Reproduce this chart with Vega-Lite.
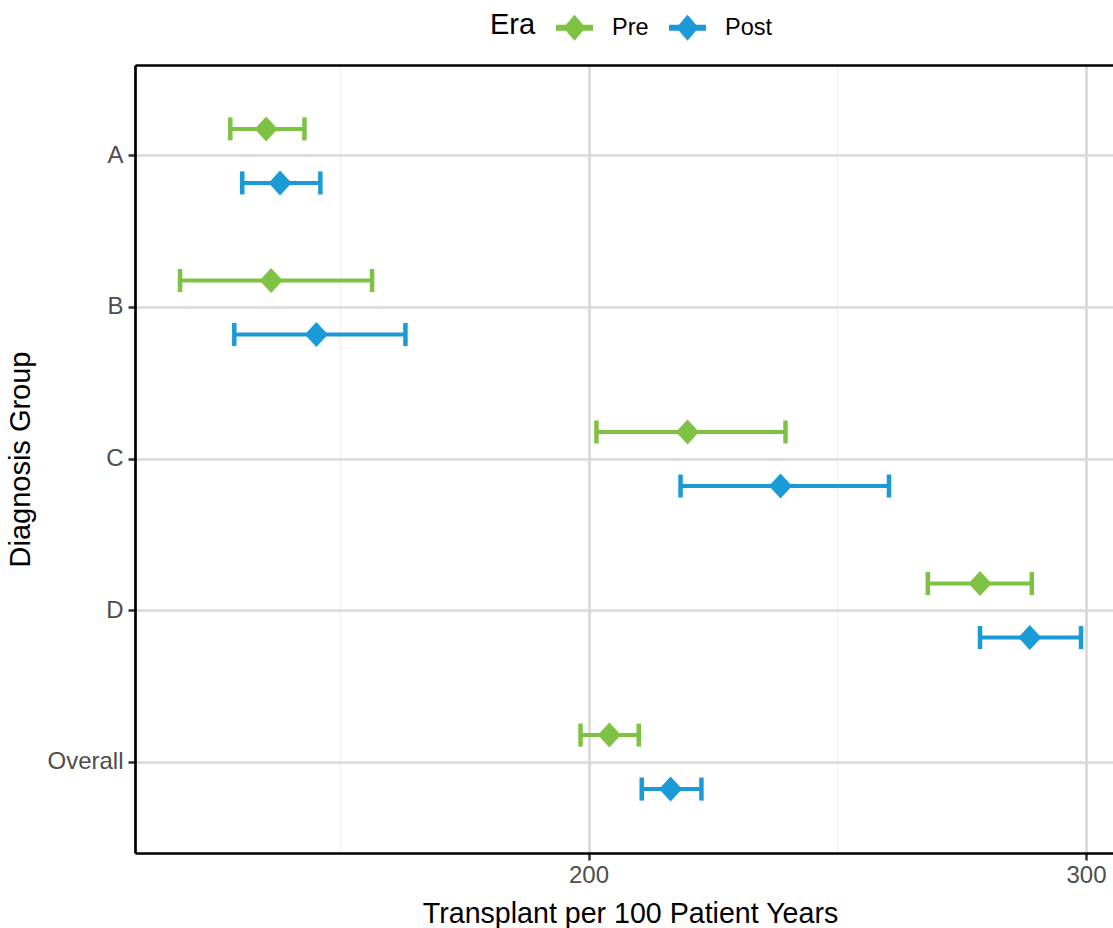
{
  "$schema": "https://vega.github.io/schema/vega-lite/v6.json",
  "width": 978,
  "height": 788,
  "autosize": {"type": "none"},
  "padding": {"left": 135, "top": 65, "right": 0, "bottom": 75},
  "background": "white",
  "config": {"font": "Liberation Sans", "view": {"stroke": null}},
  "data": {"values": [
    {"group": "A", "era": "Pre", "est": 135.2, "lo": 128.0, "hi": 142.9},
    {"group": "A", "era": "Post", "est": 138.0, "lo": 130.4, "hi": 146.1},
    {"group": "B", "era": "Pre", "est": 136.2, "lo": 117.9, "hi": 156.5},
    {"group": "B", "era": "Post", "est": 145.3, "lo": 128.8, "hi": 163.2},
    {"group": "C", "era": "Pre", "est": 219.9, "lo": 201.6, "hi": 239.6},
    {"group": "C", "era": "Post", "est": 238.6, "lo": 218.5, "hi": 260.4},
    {"group": "D", "era": "Pre", "est": 278.7, "lo": 268.2, "hi": 289.1},
    {"group": "D", "era": "Post", "est": 288.7, "lo": 278.7, "hi": 299.0},
    {"group": "Overall", "era": "Pre", "est": 204.2, "lo": 198.4, "hi": 210.1},
    {"group": "Overall", "era": "Post", "est": 216.5, "lo": 210.7, "hi": 222.7}
  ]},
  "encoding": {
    "y": {
      "field": "group", "type": "nominal",
      "scale": {"domain": ["A", "B", "C", "D", "Overall"], "paddingInner": 0, "paddingOuter": 0.1},
      "axis": {
        "title": "Diagnosis Group", "titleFontSize": 29, "titleFontWeight": "normal", "titleColor": "black", "titlePadding": 11,
        "labelFontSize": 24, "labelColor": "#4D4D4D", "labelPadding": 5,
        "tickColor": "#333333", "tickWidth": 2.5, "tickSize": 7,
        "domainColor": "black", "domainWidth": 2.7,
        "grid": true, "gridColor": "#D9D9D9", "gridWidth": 2.7, "bandPosition": 0.5
      }
    },
    "yOffset": {"field": "era", "type": "nominal", "scale": {"domain": ["Pre", "Post"], "paddingInner": 0, "paddingOuter": 0.403}},
    "color": {
      "field": "era", "type": "nominal",
      "scale": {"domain": ["Pre", "Post"], "range": ["#7DC242", "#1A9AD6"]},
      "legend": {
        "orient": "none", "legendX": 355, "legendY": -56, "direction": "horizontal",
        "title": "Era", "titleOrient": "left", "titleFontSize": 29, "titleFontWeight": "normal", "titleColor": "black", "titlePadding": 20,
        "labelFontSize": 23.5, "labelColor": "black", "labelOffset": 19, "columnPadding": 20,
        "symbolType": "M-1,-0.16L-0.46,-0.16L0,-0.7L0.46,-0.16L1,-0.16L1,0.16L0.46,0.16L0,0.7L-0.46,0.16L-1,0.16Z",
        "symbolSize": 1369, "symbolStrokeWidth": 0,
        "encode": {"symbols": {"update": {"fill": {"scale": "color", "field": "value"}, "opacity": {"value": 1}}}}
      }
    }
  },
  "layer": [
    {
      "mark": {"type": "rule", "strokeWidth": 4, "opacity": 1},
      "encoding": {
        "x": {
          "field": "lo", "type": "quantitative",
          "scale": {"domain": [108.84, 305.43], "nice": false, "zero": false},
          "axis": {
            "orient": "bottom", "values": [150, 200, 250, 300],
            "labelExpr": "datum.value % 100 === 0 ? datum.label : ''",
            "title": "Transplant per 100 Patient Years", "titleFontSize": 28.6, "titleFontWeight": "normal", "titleColor": "black", "titleX": 495, "titlePadding": 12,
            "labelFontSize": 24, "labelColor": "#4D4D4D", "labelPadding": 3,
            "tickColor": "#333333", "tickWidth": 2.5, "tickSize": 7,
            "tickOpacity": {"condition": {"test": "datum.value % 100 === 0", "value": 1}, "value": 0},
            "domainColor": "black", "domainWidth": 2.7,
            "grid": true,
            "gridColor": {"condition": {"test": "datum.value % 100 === 0", "value": "#D9D9D9"}, "value": "#F0F0F0"},
            "gridWidth": {"condition": {"test": "datum.value % 100 === 0", "value": 2.7}, "value": 1.3}
          }
        },
        "x2": {"field": "hi"}
      }
    },
    {
      "mark": {"type": "tick", "size": 23, "thickness": 4.5, "orient": "vertical", "opacity": 1},
      "encoding": {"x": {"field": "lo", "type": "quantitative", "axis": null}}
    },
    {
      "mark": {"type": "tick", "size": 23, "thickness": 4.5, "orient": "vertical", "opacity": 1},
      "encoding": {"x": {"field": "hi", "type": "quantitative", "axis": null}}
    },
    {
      "mark": {"type": "point", "shape": "M0,-1.087L1,0L0,1.087L-1,0Z", "filled": true, "size": 529, "opacity": 1},
      "encoding": {
        "x": {
          "field": "est", "type": "quantitative",
          "axis": {"orient": "top", "labels": false, "ticks": false, "grid": false, "title": null, "domainColor": "black", "domainWidth": 2.7}
        }
      }
    }
  ],
  "resolve": {"axis": {"x": "independent"}}
}
